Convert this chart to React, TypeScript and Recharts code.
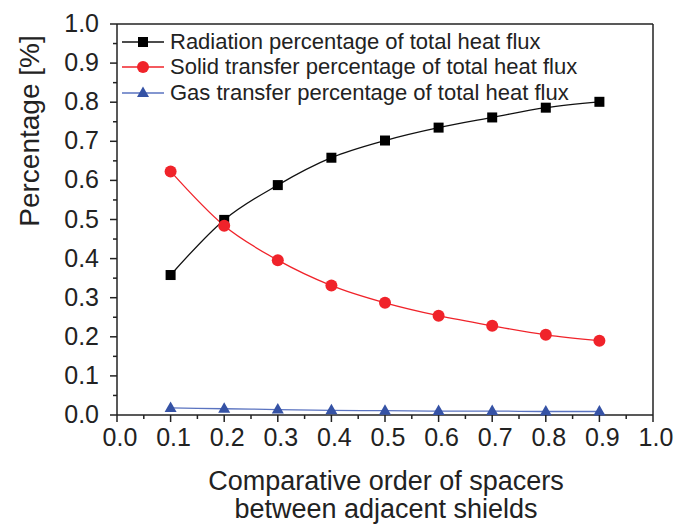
import { LineChart, Line, XAxis, YAxis, ReferenceLine, Legend, Label } from 'recharts';

const spacerOrder = [0.1, 0.2, 0.3, 0.4, 0.5, 0.6, 0.7, 0.8, 0.9];
const radiation = [0.358, 0.499, 0.588, 0.658, 0.702, 0.735, 0.761, 0.786, 0.801];
const solid = [0.623, 0.484, 0.396, 0.331, 0.287, 0.254, 0.228, 0.205, 0.19];
const gas = [0.018, 0.016, 0.014, 0.012, 0.011, 0.01, 0.01, 0.009, 0.009];

const axisTicks = [0, 0.05, 0.1, 0.15, 0.2, 0.25, 0.3, 0.35, 0.4, 0.45, 0.5, 0.55, 0.6, 0.65, 0.7, 0.75, 0.8, 0.85, 0.9, 0.95, 1.0];

const seriesNames = [
  'Radiation percentage of total heat flux',
  'Solid transfer percentage of total heat flux',
  'Gas transfer percentage of total heat flux',
];

const FONT = '"Liberation Sans", Arial, sans-serif';
const INK = '#222';
const RED = '#f0232a';
const BLUE = '#3552a5';

const data = spacerOrder.map((x, i) => ({ x, radiation: radiation[i], solid: solid[i], gas: gas[i] }));

const isMajor = (v: number) => Math.round(v * 100) % 10 === 0;

function XTick({ x, y, payload }: any) {
  const major = isMajor(payload.value);
  return (
    <g>
      <line x1={x} y1={y} x2={x} y2={y + (major ? 7 : 4)} stroke={INK} strokeWidth={1.5} />
      {major && (
        <text x={x + 3} y={y + 31} textAnchor="middle" fontSize={25} fontFamily={FONT} fill={INK}>
          {payload.value.toFixed(1)}
        </text>
      )}
    </g>
  );
}

function YTick({ x, y, payload }: any) {
  const major = isMajor(payload.value);
  return (
    <g>
      <line x1={x - (major ? 7 : 4)} y1={y} x2={x} y2={y} stroke={INK} strokeWidth={1.5} />
      {major && (
        <text x={x - 18} y={y + 8} textAnchor="end" fontSize={25} fontFamily={FONT} fill={INK}>
          {payload.value.toFixed(1)}
        </text>
      )}
    </g>
  );
}

function Square({ cx, cy, size = 10 }: any) {
  return <rect x={cx - size / 2} y={cy - size / 2} width={size} height={size} fill="#000" />;
}

function Circle({ cx, cy, r = 6 }: any) {
  return <circle cx={cx} cy={cy} r={r} fill={RED} />;
}

function Triangle({ cx, cy, s = 12 }: any) {
  const h = s * 0.87;
  return <polygon points={`${cx},${cy - h * 0.62} ${cx - s / 2},${cy + h * 0.38} ${cx + s / 2},${cy + h * 0.38}`} fill={BLUE} />;
}

const markers = [Square, Circle, Triangle];
const lineColors = ['#111', RED, '#5a73c0'];

function renderLegend() {
  return (
    <div style={{ fontFamily: FONT }}>
      {seriesNames.map((name, i) => {
        const M = markers[i];
        return (
          <div key={name} style={{ display: 'flex', alignItems: 'center', height: 25.5 }}>
            <svg width={46} height={24} style={{ display: 'block' }}>
              <line x1={2} y1={12} x2={44} y2={12} stroke={lineColors[i]} strokeWidth={1.5} />
              <M cx={23} cy={12} />
            </svg>
            <span style={{ marginLeft: 4, fontSize: 22, color: INK, whiteSpace: 'nowrap' }}>{name}</span>
          </div>
        );
      })}
    </div>
  );
}

export default function App() {
  return (
    <div style={{ position: 'absolute', left: 0, top: 0 }}>
      <LineChart width={682} height={529} data={data} margin={{ top: 24, right: 29, bottom: 84, left: 57 }}>
        <XAxis
          type="number"
          dataKey="x"
          domain={[0, 1]}
          ticks={axisTicks}
          interval={0}
          height={30}
          tickSize={0}
          tickMargin={0}
          tickLine={false}
          tick={<XTick />}
          axisLine={{ stroke: INK, strokeWidth: 1.5 }}
        >
          <Label
            content={() => (
              <text textAnchor="middle" fontSize={27} fontFamily={FONT} fill={INK}>
                <tspan x={386} y={490}>Comparative order of spacers</tspan>
                <tspan x={386} y={518}>between adjacent shields</tspan>
              </text>
            )}
          />
        </XAxis>
        <YAxis
          type="number"
          domain={[0, 1]}
          ticks={axisTicks}
          interval={0}
          width={60}
          tickSize={0}
          tickMargin={0}
          tickLine={false}
          tick={<YTick />}
          axisLine={{ stroke: INK, strokeWidth: 1.5 }}
        >
          <Label
            content={() => (
              <text x={29} y={131} transform="rotate(-90, 29, 131)" textAnchor="middle" dominantBaseline="central" fontSize={28} fontFamily={FONT} fill={INK}>
                Percentage [%]
              </text>
            )}
          />
        </YAxis>
        <ReferenceLine y={1} stroke={INK} strokeWidth={1.5} />
        <ReferenceLine x={1} stroke={INK} strokeWidth={1.5} />
        <Legend
          layout="vertical"
          align="center"
          verticalAlign="middle"
          content={renderLegend}
          wrapperStyle={{ left: 120, top: 29, width: 470 }}
        />
        <Line
          name={seriesNames[0]}
          dataKey="radiation"
          type="monotone"
          stroke="#111"
          strokeWidth={1.3}
          dot={(p: any) => <Square key={p.index} cx={p.cx} cy={p.cy} />}
          isAnimationActive={false}
        />
        <Line
          name={seriesNames[1]}
          dataKey="solid"
          type="monotone"
          stroke={RED}
          strokeWidth={1.3}
          dot={(p: any) => <Circle key={p.index} cx={p.cx} cy={p.cy} />}
          isAnimationActive={false}
        />
        <Line
          name={seriesNames[2]}
          dataKey="gas"
          type="monotone"
          stroke="#5a73c0"
          strokeWidth={1.3}
          dot={(p: any) => <Triangle key={p.index} cx={p.cx} cy={p.cy} />}
          isAnimationActive={false}
        />
      </LineChart>
    </div>
  );
}
